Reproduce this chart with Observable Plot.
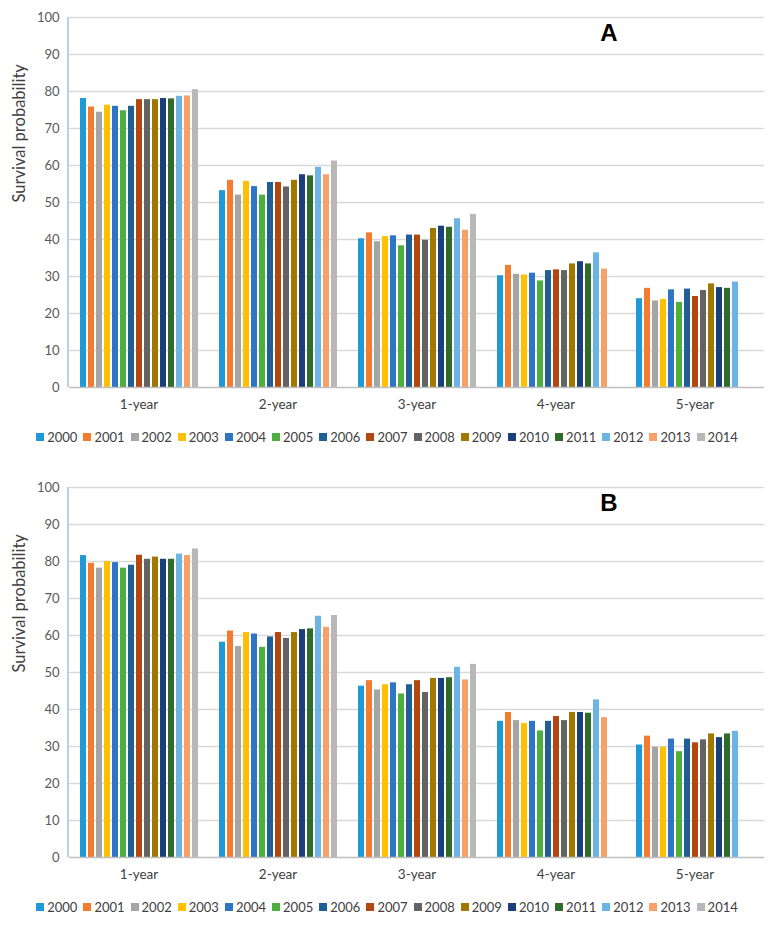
<!DOCTYPE html>
<html>
<head>
<meta charset="utf-8">
<script src="https://cdn.jsdelivr.net/npm/d3@7"></script>
<script src="https://cdn.jsdelivr.net/npm/@observablehq/plot@0.6"></script>
<style>
  body { margin: 0; background: #fff; font-family: Lato, "Open Sans", sans-serif; }
  #root { width: 774px; }
  .legend { display: flex; justify-content: center; align-items: center; height: 30px; font-size: 13px; color: #404040; gap: 6px; }
  .legend span.item { display: inline-flex; align-items: center; gap: 3px; }
  .legend span.sw { width: 8px; height: 8px; display: inline-block; }
</style>
</head>
<body>
<div id="root"></div>
<script>
const intervals = ["1-year", "2-year", "3-year", "4-year", "5-year"];
const years = ["2000","2001","2002","2003","2004","2005","2006","2007","2008","2009","2010","2011","2012","2013","2014"];
const colors = ["#1f9ad6","#f47c30","#a5a5a5","#ffc000","#2e75c8","#4caf3e","#1f5f96","#b2470f","#636363","#a07800","#1b3f7a","#2f6b2a","#6cb4e4","#f7a068","#b8b8b8"];
const yLabel = "Survival probability";

// Panel A values, one array per interval (index = year)
const A_1year = [78.1, 75.8, 74.4, 76.3, 76.0, 74.8, 76.0, 77.8, 77.8, 77.8, 78.1, 78.0, 78.7, 78.8, 80.5];
const A_2year = [53.2, 56.0, 52.0, 55.7, 54.3, 52.0, 55.4, 55.4, 54.2, 56.0, 57.5, 57.2, 59.5, 57.5, 61.2];
const A_3year = [40.2, 41.8, 39.4, 40.8, 41.0, 38.3, 41.2, 41.2, 39.8, 43.0, 43.6, 43.3, 45.6, 42.5, 46.8];
const A_4year = [30.2, 33.0, 30.6, 30.4, 30.9, 28.8, 31.6, 31.8, 31.6, 33.4, 34.0, 33.4, 36.4, 32.0, null];
const A_5year = [24.0, 26.8, 23.4, 23.8, 26.4, 23.0, 26.6, 24.6, 26.2, 28.0, 27.0, 26.8, 28.5, null, null];

// Panel B values
const B_1year = [81.6, 79.5, 78.2, 80.0, 79.7, 78.2, 79.0, 81.7, 80.6, 81.2, 80.6, 80.6, 82.0, 81.6, 83.4];
const B_2year = [58.2, 61.2, 57.0, 60.8, 60.4, 56.8, 59.6, 60.8, 59.2, 60.8, 61.6, 61.8, 65.2, 62.2, 65.4];
const B_3year = [46.3, 47.8, 45.3, 46.7, 47.2, 44.2, 46.7, 47.8, 44.6, 48.4, 48.4, 48.6, 51.4, 48.0, 52.2];
const B_4year = [36.8, 39.2, 37.0, 36.2, 36.8, 34.2, 36.8, 38.1, 37.0, 39.2, 39.2, 39.0, 42.6, 37.8, null];
const B_5year = [30.4, 32.8, 29.8, 29.8, 32.0, 28.6, 32.0, 31.0, 31.8, 33.4, 32.4, 33.4, 34.1, null, null];

const yTicks = [0,10,20,30,40,50,60,70,80,90,100];

function rows(series) {
  const out = [];
  series.forEach((vals, i) => vals.forEach((v, j) => {
    if (v != null) out.push({interval: intervals[i], year: years[j], value: v});
  }));
  return out;
}

function panel(series, letter) {
  const data = rows(series);
  const svg = Plot.plot({
    width: 774,
    height: 422,
    marginLeft: 68,
    marginRight: 9,
    marginTop: 17,
    marginBottom: 35,
    style: {fontFamily: "Lato, 'Open Sans', sans-serif", fontSize: "13px", color: "#595959", background: "#fff"},
    fx: {domain: intervals, padding: 0, axis: null},
    x: {domain: years, axis: null, paddingInner: 0.25, paddingOuter: 0.9},
    y: {domain: [0, 100], axis: null},
    color: {domain: years, range: colors},
    marks: [
      Plot.ruleY(yTicks.filter(d => d > 0), {stroke: "#d9d9d9", strokeWidth: 1.3}),
      Plot.barY(data, {fx: "interval", x: "year", y: "value", fill: "year"}),
      Plot.ruleY([0], {stroke: "#bfbfbf", strokeWidth: 1.3}),
      Plot.axisY({ticks: yTicks, tickSize: 0, tickPadding: 10, fontSize: 13, fill: "#595959", label: null}),
      Plot.text(intervals, {fx: d => d, text: d => d, frameAnchor: "bottom", dy: 21, fontSize: 13.5, fill: "#404040"}),
      Plot.text([yLabel], {fx: () => intervals[0], text: d => d, frameAnchor: "left", rotate: -90, dx: -50, fontSize: 16.5, fill: "#404040"}),
      Plot.text([{interval: "4-year", t: letter}], {fx: "interval", text: "t", frameAnchor: "top-right", dx: -8, dy: 6, fontSize: 24, fontWeight: "bold", fill: "#000", fontFamily: "Liberation Sans, Arial, sans-serif"})
    ]
  });
  // left axis line (light blue, like the original)
  const y = svg.scale("y");
  d3.select(svg).append("line")
    .attr("x1", 68).attr("x2", 68)
    .attr("y1", y.apply(0)).attr("y2", y.apply(100))
    .attr("stroke", "#9dc3e6").attr("stroke-width", 1.5);
  return svg;
}

function legend() {
  const div = document.createElement("div");
  div.className = "legend";
  years.forEach((y, i) => {
    const it = document.createElement("span");
    it.className = "item";
    const sw = document.createElement("span");
    sw.className = "sw";
    sw.style.background = colors[i];
    it.appendChild(sw);
    it.appendChild(document.createTextNode(y));
    div.appendChild(it);
  });
  return div;
}

const root = document.getElementById("root");
root.appendChild(panel([A_1year, A_2year, A_3year, A_4year, A_5year], "A"));
root.appendChild(legend());
const spacer = document.createElement("div");
spacer.style.height = "18px";
root.appendChild(spacer);
root.appendChild(panel([B_1year, B_2year, B_3year, B_4year, B_5year], "B"));
root.appendChild(legend());
</script>
</body>
</html>
